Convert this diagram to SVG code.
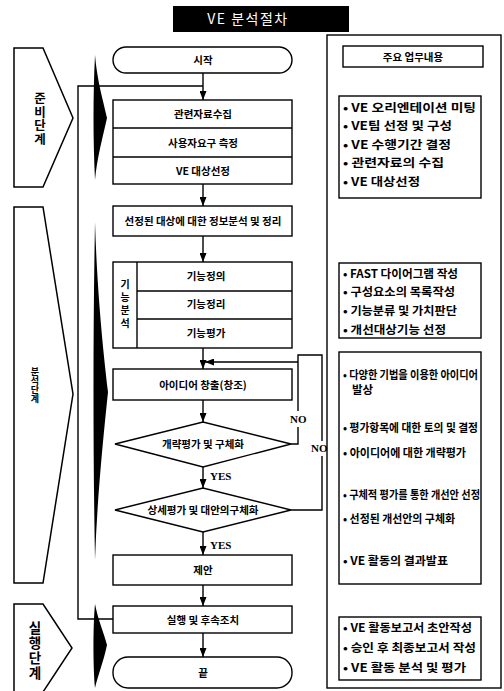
<svg xmlns="http://www.w3.org/2000/svg" width="504" height="691" viewBox="0 0 504 691">
<style>
.bx{fill:#fff;stroke:#000;stroke-width:1.4}
.fr{fill:none;stroke:#000;stroke-width:1.4}
.ln{fill:none;stroke:#000;stroke-width:1.4}
.ph{fill:#fff;stroke:#000;stroke-width:1.5}
.wd{fill:#000}
.t{font-family:"Noto Sans CJK KR",sans-serif;font-weight:bold;font-size:10.5px;text-anchor:middle;fill:#000}
.v{font-family:"Noto Sans CJK KR",sans-serif;font-weight:bold;text-anchor:middle;fill:#000;writing-mode:vertical-rl}
.r{font-family:"Noto Sans CJK KR",sans-serif;font-weight:bold;font-size:11.5px;fill:#000}
.e{font-family:"Liberation Serif",serif;font-weight:bold;font-size:11px;fill:#000}
</style>
<defs>
<marker id="ah" markerUnits="userSpaceOnUse" markerWidth="9" markerHeight="7" refX="9" refY="3.5" orient="auto"><path d="M0,0 L9,3.5 L0,7 Z" fill="#000"/></marker>
</defs>
<rect width="504" height="691" fill="#fff"/>
<g id="title">
<rect x="173" y="6" width="176" height="26" fill="#000"/>
<text x="248" y="24" font-family="Noto Sans CJK KR,sans-serif" font-size="14" fill="#fff" text-anchor="middle" letter-spacing="1.5">VE 분석절차</text>
</g>
<g id="phase-prep">
<polygon class="ph" points="14,48 43,48 73,118 43,187 14,187"/>
<text class="v" font-size="12.5" x="40" y="119" letter-spacing="1">준비단계</text>
</g>
<g id="phase-analysis">
<polygon class="ph" points="14,207 43,207 73,394 43,583 14,583"/>
<text class="v" font-size="9" x="35" y="385">분석단계</text>
</g>
<g id="phase-exec">
<polygon class="ph" points="14,604 43,604 72,648 43,692 14,692"/>
<text class="v" font-size="13.5" x="35" y="651" letter-spacing="1.5">실행단계</text>
</g>
<g id="wedges">
<path class="wd" d="M95,55 C97,80 103,100 107,118 C103,136 97,158 95,180 C93,140 93,95 95,55 Z"/>
<path class="wd" d="M95,222 C97,290 103,350 108,392 C103,440 97,500 95,560 C93,450 93,330 95,222 Z"/>
<path class="wd" d="M95,604 C98,620 104,633 107,645 C104,660 98,675 95,688 C93,665 93,625 95,604 Z"/>
</g>
<g id="task-panel">
<rect class="fr" x="327" y="35" width="174" height="653"/>
<rect class="bx" x="343" y="46" width="140" height="21"/>
<text class="t" x="413" y="61" font-size="11">주요 업무내용</text>
</g>
<g id="connectors">
<path class="ln" d="M113,619 H78 V86 H203"/>
<path class="ln" d="M203,73 V100" marker-end="url(#ah)"/>
<path class="ln" d="M203,184 V206" marker-end="url(#ah)"/>
<path class="ln" d="M203,236 V262" marker-end="url(#ah)"/>
<path class="ln" d="M203,348 V369" marker-end="url(#ah)"/>
<path class="ln" d="M298,362 H205" marker-end="url(#ah)"/>
<path class="ln" d="M291,444 H298 V427"/>
<path class="ln" d="M298,411 V355 H322 V441"/>
<path class="ln" d="M322,456 V510 H291"/>
<path class="ln" d="M203,400 V422" marker-end="url(#ah)"/>
<path class="ln" d="M203,467 V488" marker-end="url(#ah)"/>
<path class="ln" d="M203,532 V555" marker-end="url(#ah)"/>
<path class="ln" d="M203,585 V606" marker-end="url(#ah)"/>
<path class="ln" d="M203,633 V657" marker-end="url(#ah)"/>
<text class="e" x="290" y="423">NO</text>
<text class="e" x="311" y="452">NO</text>
<text class="e" x="210" y="480" font-size="10.5">YES</text>
<text class="e" x="210" y="549" font-size="10.5">YES</text>
</g>
<g id="start">
<rect class="bx" x="113" y="47" width="179" height="26" rx="13"/>
<text class="t" x="203" y="64">시작</text>
</g>
<g id="prep-group">
<rect class="bx" x="113" y="100" width="179" height="84"/>
<line class="ln" x1="113" y1="128" x2="292" y2="128"/>
<line class="ln" x1="113" y1="157" x2="292" y2="157"/>
<text class="t" x="203" y="118">관련자료수집</text>
<text class="t" x="203" y="147">사용자요구 측정</text>
<text class="t" x="203" y="175">VE 대상선정</text>
</g>
<g id="info-analysis">
<rect class="bx" x="113" y="206" width="179" height="30"/>
<text class="t" x="203" y="225" font-size="10.8">선정된 대상에 대한 정보분석 및 정리</text>
</g>
<g id="function-analysis">
<rect class="bx" x="113" y="262" width="179" height="86"/>
<line class="ln" x1="137" y1="262" x2="137" y2="348"/>
<line class="ln" x1="137" y1="291" x2="292" y2="291"/>
<line class="ln" x1="137" y1="319" x2="292" y2="319"/>
<text class="v" font-size="10" x="125" y="305" letter-spacing="3">기능분석</text>
<text class="t" x="206" y="280">기능정의</text>
<text class="t" x="206" y="308">기능정리</text>
<text class="t" x="206" y="337">기능평가</text>
</g>
<g id="idea">
<rect class="bx" x="113" y="369" width="179" height="31"/>
<text class="t" x="203" y="389">아이디어 창출(창조)</text>
</g>
<g id="rough-eval">
<polygon class="bx" points="115,444 203,422 291,444 203,467"/>
<text class="t" x="203" y="448">개략평가 및 구체화</text>
</g>
<g id="detail-eval">
<polygon class="bx" points="115,510 203,488 291,510 203,532"/>
<text class="t" x="203" y="514">상세평가 및 대안의구체화</text>
</g>
<g id="proposal">
<rect class="bx" x="113" y="555" width="179" height="30"/>
<text class="t" x="203" y="574">제안</text>
</g>
<g id="execution">
<rect class="bx" x="113" y="606" width="179" height="27"/>
<text class="t" x="203" y="624">실행 및 후속조치</text>
</g>
<g id="end">
<rect class="bx" x="113" y="657" width="179" height="31" rx="15"/>
<text class="t" x="203" y="677">끝</text>
</g>
<g id="tasks-prep">
<rect class="bx" x="339" y="96" width="142" height="102"/>
<text class="r" x="343" y="112" textLength="133" lengthAdjust="spacingAndGlyphs">• VE 오리엔테이션 미팅</text>
<text class="r" x="343" y="130" textLength="109" lengthAdjust="spacingAndGlyphs">• VE팀 선정 및 구성</text>
<text class="r" x="343" y="149" textLength="108" lengthAdjust="spacingAndGlyphs">• VE 수행기간 결정</text>
<text class="r" x="343" y="167" textLength="101" lengthAdjust="spacingAndGlyphs">• 관련자료의 수집</text>
<text class="r" x="343" y="186" textLength="77" lengthAdjust="spacingAndGlyphs">• VE 대상선정</text>
</g>
<g id="tasks-function">
<rect class="bx" x="339" y="263" width="142" height="75"/>
<text class="r" x="343" y="278" textLength="115" lengthAdjust="spacingAndGlyphs">• FAST 다이어그램 작성</text>
<text class="r" x="343" y="296" textLength="112" lengthAdjust="spacingAndGlyphs">• 구성요소의 목록작성</text>
<text class="r" x="343" y="315" textLength="114" lengthAdjust="spacingAndGlyphs">• 기능분류 및 가치판단</text>
<text class="r" x="343" y="334" textLength="103" lengthAdjust="spacingAndGlyphs">• 개선대상기능 선정</text>
</g>
<g id="tasks-idea">
<rect class="bx" x="339" y="352" width="142" height="232"/>
<text class="r" x="343" y="379" textLength="135" lengthAdjust="spacingAndGlyphs">• 다양한 기법을 이용한 아이디어</text>
<text class="r" x="352" y="394">발상</text>
<text class="r" x="343" y="432" textLength="135" lengthAdjust="spacingAndGlyphs">• 평가항목에 대한 토의 및 결정</text>
<text class="r" x="343" y="457" textLength="123" lengthAdjust="spacingAndGlyphs">• 아이디어에 대한 개략평가</text>
<text class="r" x="343" y="499" textLength="137" lengthAdjust="spacingAndGlyphs">• 구체적 평가를 통한 개선안 선정</text>
<text class="r" x="343" y="523" textLength="112" lengthAdjust="spacingAndGlyphs">• 선정된 개선안의 구체화</text>
<text class="r" x="343" y="565" textLength="105" lengthAdjust="spacingAndGlyphs">• VE 활동의 결과발표</text>
</g>
<g id="tasks-exec">
<rect class="bx" x="339" y="617" width="142" height="63"/>
<text class="r" x="343" y="632" textLength="129" lengthAdjust="spacingAndGlyphs">• VE 활동보고서 초안작성</text>
<text class="r" x="343" y="652" textLength="133" lengthAdjust="spacingAndGlyphs">• 승인 후 최종보고서 작성</text>
<text class="r" x="343" y="672" textLength="123" lengthAdjust="spacingAndGlyphs">• VE 활동 분석 및 평가</text>
</g>
</svg>
